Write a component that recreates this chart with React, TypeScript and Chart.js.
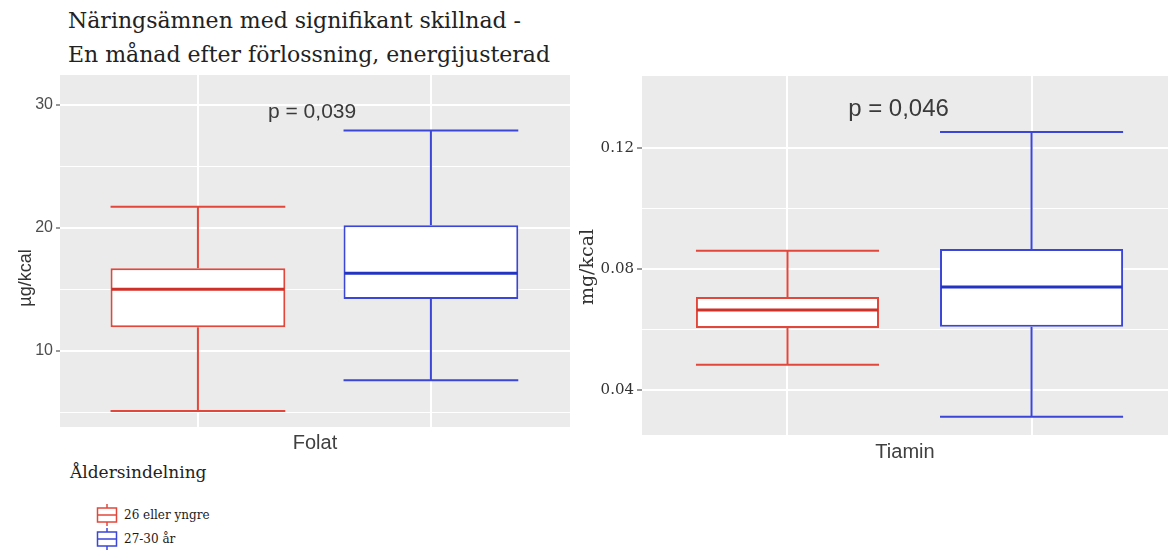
import { useEffect, useRef } from 'react';
import { Chart, registerables } from 'chart.js';

Chart.register(...registerables);

// Age groups, in legend order, with their outline / median colours
const ageGroups = ['26 eller yngre', '27-30 år'];
const groupColors = ['#E2473B', '#3B45D8'];
const medianColors = ['#CF3128', '#2434C2'];
const groupPositions = [1, 2];

// Folat (µg/kcal): whisker ends, quartiles and medians per age group
const folatLow = [5.1, 7.6];
const folatQ1 = [11.9, 14.2];
const folatMedian = [15.0, 16.3];
const folatQ3 = [16.7, 20.2];
const folatHigh = [21.7, 27.9];
const folatMajorTicks = [10, 20, 30];
const folatMinorTicks = [5, 15, 25];
const folatTickLabels = ['10', '20', '30'];

// Tiamin (mg/kcal): whisker ends, quartiles and medians per age group
const tiaminLow = [0.0483, 0.0311];
const tiaminQ1 = [0.0605, 0.0609];
const tiaminMedian = [0.0664, 0.074];
const tiaminQ3 = [0.0707, 0.0866];
const tiaminHigh = [0.086, 0.1253];
const tiaminMajorTicks = [0.04, 0.08, 0.12];
const tiaminMinorTicks = [0.06, 0.1];
const tiaminTickLabels = ['0.04', '0.08', '0.12'];

const nutrients = ['Folat', 'Tiamin'];
const units = ['µg/kcal', 'mg/kcal'];
const pTexts = ['p = 0,039', 'p = 0,046'];

const titleLines = ['Näringsämnen med signifikant skillnad -', 'En månad efter förlossning, energijusterad'];
const legendTitle = 'Åldersindelning';

type Stats = { low: number[]; q1: number[]; median: number[]; q3: number[]; high: number[] };

const near = (list: number[], v: number) => list.some((t) => Math.abs(t - v) < 1e-9);

// Grey panel background, whiskers, medians, p-value and the y caption
const boxPanelPlugin = {
  id: 'boxPanel',
  beforeDraw(chart: any, _args: any, opts: any) {
    const { ctx, chartArea: a } = chart;
    ctx.save();
    ctx.fillStyle = opts.background;
    ctx.fillRect(a.left, a.top, a.right - a.left, a.bottom - a.top);
    ctx.restore();
  },
  afterDatasetsDraw(chart: any, _args: any, opts: any) {
    const { ctx } = chart;
    const ys = chart.scales.y;
    const xs = chart.scales.x;
    const st: Stats = opts.stats;
    const meta = chart.getDatasetMeta(0);
    ctx.save();
    ctx.lineCap = 'butt';
    meta.data.forEach((bar: any, i: number) => {
      const { x, width } = bar.getProps(['x', 'width'], true);
      const half = width / 2;
      const yLow = ys.getPixelForValue(st.low[i]);
      const yQ1 = ys.getPixelForValue(st.q1[i]);
      const yQ3 = ys.getPixelForValue(st.q3[i]);
      const yHigh = ys.getPixelForValue(st.high[i]);
      const yMed = ys.getPixelForValue(st.median[i]);
      ctx.strokeStyle = groupColors[i];
      ctx.lineWidth = 2;
      ctx.beginPath();
      ctx.moveTo(x, yQ3);
      ctx.lineTo(x, yHigh);
      ctx.moveTo(x - half, yHigh);
      ctx.lineTo(x + half, yHigh);
      ctx.moveTo(x, yQ1);
      ctx.lineTo(x, yLow);
      ctx.moveTo(x - half, yLow);
      ctx.lineTo(x + half, yLow);
      ctx.stroke();
      ctx.strokeStyle = medianColors[i];
      ctx.lineWidth = 3;
      ctx.beginPath();
      ctx.moveTo(x - half + 1, yMed);
      ctx.lineTo(x + half - 1, yMed);
      ctx.stroke();
    });
    // p-value annotation placed in data coordinates
    ctx.fillStyle = opts.pColor;
    ctx.font = opts.pFont;
    ctx.textAlign = 'center';
    ctx.textBaseline = 'middle';
    ctx.fillText(opts.pText, xs.getPixelForValue(opts.pX), ys.getPixelForValue(opts.pY));
    // rotated unit caption beside the y axis
    ctx.translate(opts.captionX, opts.captionY);
    ctx.rotate(-Math.PI / 2);
    ctx.fillStyle = opts.captionColor;
    ctx.font = opts.captionFont;
    ctx.fillText(opts.caption, 0, 0);
    ctx.restore();
  },
};

interface PanelProps {
  left: number;
  top: number;
  width: number;
  height: number;
  padding: { left: number; right: number; top: number; bottom: number };
  yAxisWidth: number;
  xAxisHeight: number;
  nutrient: string;
  unit: string;
  pText: string;
  pX: number;
  pY: number;
  pFont: string;
  stats: Stats;
  majors: number[];
  minors: number[];
  tickLabels: string[];
  yMin: number;
  yMax: number;
  xMin: number;
  xMax: number;
  tickFont: any;
  tickColor: string;
  tickLength: number;
  xTitleFont: any;
  xTitlePadBottom: number;
  captionX: number;
  captionY: number;
  captionFont: string;
}

function BoxPanel(p: PanelProps) {
  const ref = useRef<HTMLCanvasElement | null>(null);
  useEffect(() => {
    if (!ref.current) return;
    const allTicks = [...p.majors, ...p.minors].sort((a, b) => a - b);
    const chart = new Chart(ref.current, {
      type: 'bar',
      data: {
        datasets: [
          {
            data: groupPositions.map((x, i) => ({ x, y: [p.stats.q1[i], p.stats.q3[i]] })) as any,
            backgroundColor: '#FFFFFF',
            borderColor: groupColors,
            borderWidth: 2,
            borderSkipped: false,
            barPercentage: 0.75,
            categoryPercentage: 1,
          },
        ],
      },
      options: {
        animation: false,
        responsive: false,
        events: [],
        layout: { padding: p.padding },
        plugins: {
          legend: { display: false },
          tooltip: { enabled: false },
          boxPanel: {
            background: '#EBEBEB',
            stats: p.stats,
            pText: p.pText,
            pX: p.pX,
            pY: p.pY,
            pFont: p.pFont,
            pColor: '#3A3A3A',
            caption: p.unit,
            captionX: p.captionX,
            captionY: p.captionY,
            captionFont: p.captionFont,
            captionColor: '#333333',
          },
        } as any,
        scales: {
          x: {
            type: 'linear',
            min: p.xMin,
            max: p.xMax,
            offset: false,
            afterBuildTicks: (s: any) => {
              s.ticks = groupPositions.map((v) => ({ value: v }));
            },
            afterFit: (s: any) => {
              s.height = p.xAxisHeight;
            },
            ticks: { display: false },
            grid: { color: '#FFFFFF', lineWidth: 2, drawTicks: false, offset: false },
            border: { display: false },
            title: {
              display: true,
              text: p.nutrient,
              font: p.xTitleFont,
              color: '#404040',
              padding: { top: 0, bottom: p.xTitlePadBottom },
            },
          },
          y: {
            type: 'linear',
            min: p.yMin,
            max: p.yMax,
            afterBuildTicks: (s: any) => {
              s.ticks = allTicks.map((v) => ({ value: v }));
            },
            afterFit: (s: any) => {
              s.width = p.yAxisWidth;
            },
            ticks: {
              font: p.tickFont,
              color: p.tickColor,
              padding: 3,
              callback: (v: any) => {
                const k = p.majors.findIndex((m) => Math.abs(m - Number(v)) < 1e-9);
                return k >= 0 ? p.tickLabels[k] : '';
              },
            },
            grid: {
              color: '#FFFFFF',
              lineWidth: (c: any) => (near(p.majors, c.tick.value) ? 2 : 1),
              tickColor: (c: any) => (near(p.majors, c.tick.value) ? '#333333' : 'rgba(0,0,0,0)'),
              tickLength: p.tickLength,
              tickWidth: 1,
            } as any,
            border: { display: false },
          },
        },
      },
      plugins: [boxPanelPlugin],
    } as any);
    return () => chart.destroy();
  }, []);
  return (
    <canvas
      ref={ref}
      width={p.width}
      height={p.height}
      style={{ position: 'absolute', left: p.left, top: p.top, width: p.width, height: p.height }}
    />
  );
}

function LegendIcon({ color }: { color: string }) {
  return (
    <svg width={22} height={24} style={{ position: 'absolute', left: 0, top: 0 }}>
      <line x1={11} y1={1} x2={11} y2={5} stroke={color} strokeWidth={1.5} />
      <line x1={11} y1={19} x2={11} y2={23} stroke={color} strokeWidth={1.5} />
      <rect x={1.5} y={5} width={19} height={14} fill="#FFFFFF" stroke={color} strokeWidth={1.5} />
      <line x1={1.5} y1={12} x2={20.5} y2={12} stroke={color} strokeWidth={1.5} />
    </svg>
  );
}

export default function App() {
  const serif = '"DejaVu Serif", serif';
  return (
    <div
      style={{
        position: 'absolute',
        left: 0,
        top: 0,
        width: 1170,
        height: 558,
        background: '#FFFFFF',
        overflow: 'hidden',
      }}
    >
      <div
        style={{
          position: 'absolute',
          left: 68,
          top: 4,
          fontFamily: serif,
          fontSize: 22,
          lineHeight: '34px',
          color: '#222222',
          whiteSpace: 'nowrap',
        }}
      >
        {titleLines.map((t) => (
          <div key={t}>{t}</div>
        ))}
      </div>

      <BoxPanel
        left={0}
        top={60}
        width={580}
        height={400}
        padding={{ left: 0, right: 10, top: 15, bottom: 0 }}
        yAxisWidth={60}
        xAxisHeight={33}
        nutrient={nutrients[0]}
        unit={units[0]}
        pText={pTexts[0]}
        pX={1.49}
        pY={29.4}
        pFont='21px "Liberation Sans", Arial, sans-serif'
        stats={{ low: folatLow, q1: folatQ1, median: folatMedian, q3: folatQ3, high: folatHigh }}
        majors={folatMajorTicks}
        minors={folatMinorTicks}
        tickLabels={folatTickLabels}
        yMin={3.8}
        yMax={32.4}
        xMin={0.408}
        xMax={2.597}
        tickFont={{ family: '"Liberation Sans", Arial, sans-serif', size: 16 }}
        tickColor="#4D4D4D"
        tickLength={4}
        xTitleFont={{ family: '"Liberation Sans", Arial, sans-serif', size: 20 }}
        xTitlePadBottom={5}
        captionX={26}
        captionY={218}
        captionFont='18px "Liberation Sans", Arial, sans-serif'
      />

      <BoxPanel
        left={575}
        top={60}
        width={595}
        height={420}
        padding={{ left: 0, right: 2, top: 16, bottom: 0 }}
        yAxisWidth={67}
        xAxisHeight={45}
        nutrient={nutrients[1]}
        unit={units[1]}
        pText={pTexts[1]}
        pX={1.455}
        pY={0.1329}
        pFont='24px "Liberation Sans", Arial, sans-serif'
        stats={{ low: tiaminLow, q1: tiaminQ1, median: tiaminMedian, q3: tiaminQ3, high: tiaminHigh }}
        majors={tiaminMajorTicks}
        minors={tiaminMinorTicks}
        tickLabels={tiaminTickLabels}
        yMin={0.0251}
        yMax={0.1438}
        xMin={0.404}
        xMax={2.559}
        tickFont={{ family: '"DejaVu Serif", serif', size: 15 }}
        tickColor="#333333"
        tickLength={5}
        xTitleFont={{ family: '"Liberation Sans", Arial, sans-serif', size: 20 }}
        xTitlePadBottom={16}
        captionX={13}
        captionY={207}
        captionFont='19px "DejaVu Serif", serif'
      />

      <div
        style={{
          position: 'absolute',
          left: 70,
          top: 461,
          fontFamily: serif,
          fontSize: 17,
          lineHeight: '22px',
          color: '#222222',
          whiteSpace: 'nowrap',
        }}
      >
        {legendTitle}
      </div>
      {ageGroups.map((g, i) => (
        <div key={g} style={{ position: 'absolute', left: 96, top: 503 + i * 24, height: 24, width: 150 }}>
          <LegendIcon color={groupColors[i]} />
          <span
            style={{
              position: 'absolute',
              left: 28,
              top: 3,
              fontFamily: serif,
              fontSize: 12,
              lineHeight: '18px',
              color: '#1A1A1A',
              whiteSpace: 'nowrap',
            }}
          >
            {g}
          </span>
        </div>
      ))}
    </div>
  );
}
